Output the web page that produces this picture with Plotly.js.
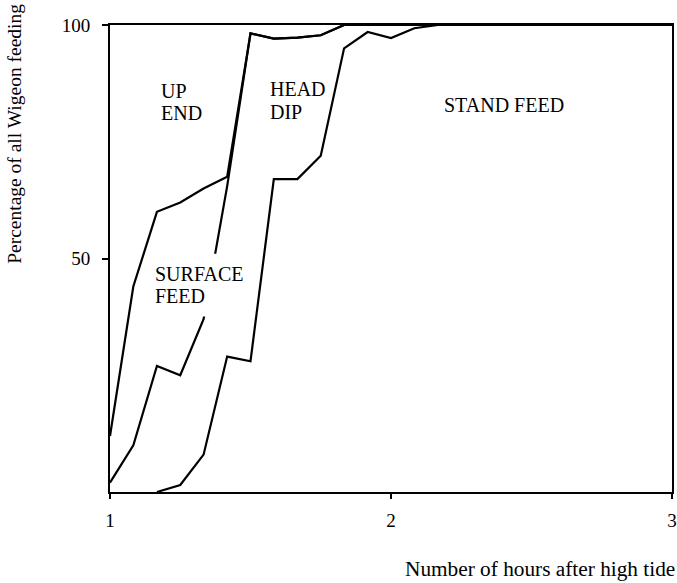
<!DOCTYPE html>
<html>
<head>
<meta charset="utf-8">
<script src="https://cdn.plot.ly/plotly-3.0.1.min.js"></script>
<style>
  html, body { margin: 0; padding: 0; background: #ffffff; }
  #chart { width: 677px; height: 583px; }
</style>
</head>
<body>
<div id="chart"></div>
<script>
// Hours after high tide (5-minute steps) and cumulative percentage boundaries
var hoursAB = [1.0, 1.083, 1.167, 1.25, 1.333, 1.417, 1.5, 1.583, 1.667, 1.75, 1.833, 3.0];
var upEndLower = [12, 44, 60, 62, 65, 67.5, 98.2, 97.1, 97.3, 97.8, 100, 100];
var surfaceLower = [2, 10, 27, 25, 37, 65.5, 98.2, 97.1, 97.3, 97.8, 100, 100];
var hoursC = [1.167, 1.25, 1.333, 1.417, 1.5, 1.583, 1.667, 1.75, 1.833, 1.917, 2.0, 2.083, 2.167, 3.0];
var headDipLower = [0, 1.5, 8, 29, 28, 67, 67, 72, 95, 98.5, 97.2, 99.3, 100, 100];

var xTicks = [1, 2, 3];
var xTickText = ['1', '2', '3'];
var yTicks = [50, 100];
var yTickText = ['50', '100'];

var FONT = '"Liberation Serif", "Times New Roman", Times, serif';
var lineStyle = {color: '#000000', width: 2.2};

var traces = [
  {x: hoursAB, y: upEndLower, type: 'scatter', mode: 'lines', line: lineStyle, hoverinfo: 'skip', cliponaxis: false},
  {x: hoursAB, y: surfaceLower, type: 'scatter', mode: 'lines', line: lineStyle, hoverinfo: 'skip', cliponaxis: false},
  {x: hoursC, y: headDipLower, type: 'scatter', mode: 'lines', line: lineStyle, hoverinfo: 'skip', cliponaxis: false}
];

function lbl(text, x, y, anchor) {
  return {text: text, x: x, y: y, xref: 'x', yref: 'y', xanchor: anchor || 'left', yanchor: 'middle',
          showarrow: false, font: {family: FONT, size: 20, color: '#000000'}};
}

var layout = {
  width: 677, height: 583,
  margin: {l: 110, r: 5, t: 25, b: 91},
  paper_bgcolor: '#ffffff', plot_bgcolor: '#ffffff',
  showlegend: false,
  font: {family: FONT, color: '#000000'},
  xaxis: {
    range: [1, 3], tickmode: 'array', tickvals: xTicks, ticktext: xTickText,
    ticks: 'outside', ticklen: 5, tickwidth: 2, tickcolor: '#000000',
    showline: true, linewidth: 2, linecolor: '#000000', mirror: true,
    showgrid: false, zeroline: false, ticklabelstandoff: 5,
    tickfont: {family: FONT, size: 19, color: '#000000'}
  },
  yaxis: {
    range: [0, 100], tickmode: 'array', tickvals: yTicks, ticktext: yTickText,
    ticks: 'outside', ticklen: 6, tickwidth: 2, tickcolor: '#000000',
    showline: true, linewidth: 2, linecolor: '#000000', mirror: true,
    showgrid: false, zeroline: false, ticklabelstandoff: 8,
    tickfont: {family: FONT, size: 19, color: '#000000'}
  },
  shapes: [
    {type: 'rect', xref: 'x', yref: 'y', x0: 1.15, x1: 1.48, y0: 37.6, y1: 51.0,
     fillcolor: '#ffffff', line: {width: 0}, layer: 'above'}
  ],
  annotations: [
    lbl('UP', 1.174, 85.8),
    lbl('END', 1.174, 81.2),
    lbl('HEAD', 1.561, 86.3),
    lbl('DIP', 1.561, 81.4),
    lbl('STAND FEED', 2.403, 82.9, 'center'),
    lbl('SURFACE', 1.153, 46.7),
    lbl('FEED', 1.153, 41.9),
    {text: 'Percentage of all Wigeon feeding', xref: 'paper', yref: 'paper', x: -0.169, y: 0.767,
     xanchor: 'center', yanchor: 'middle', textangle: -90, showarrow: false,
     font: {family: FONT, size: 19.5, color: '#000000'}},
    {text: 'Number of hours after high tide', xref: 'paper', yref: 'paper', x: 1.009, y: -0.165,
     xanchor: 'right', yanchor: 'middle', showarrow: false,
     font: {family: FONT, size: 21.3, color: '#000000'}}
  ]
};

Plotly.newPlot('chart', traces, layout, {displayModeBar: false, staticPlot: true});
</script>
</body>
</html>
